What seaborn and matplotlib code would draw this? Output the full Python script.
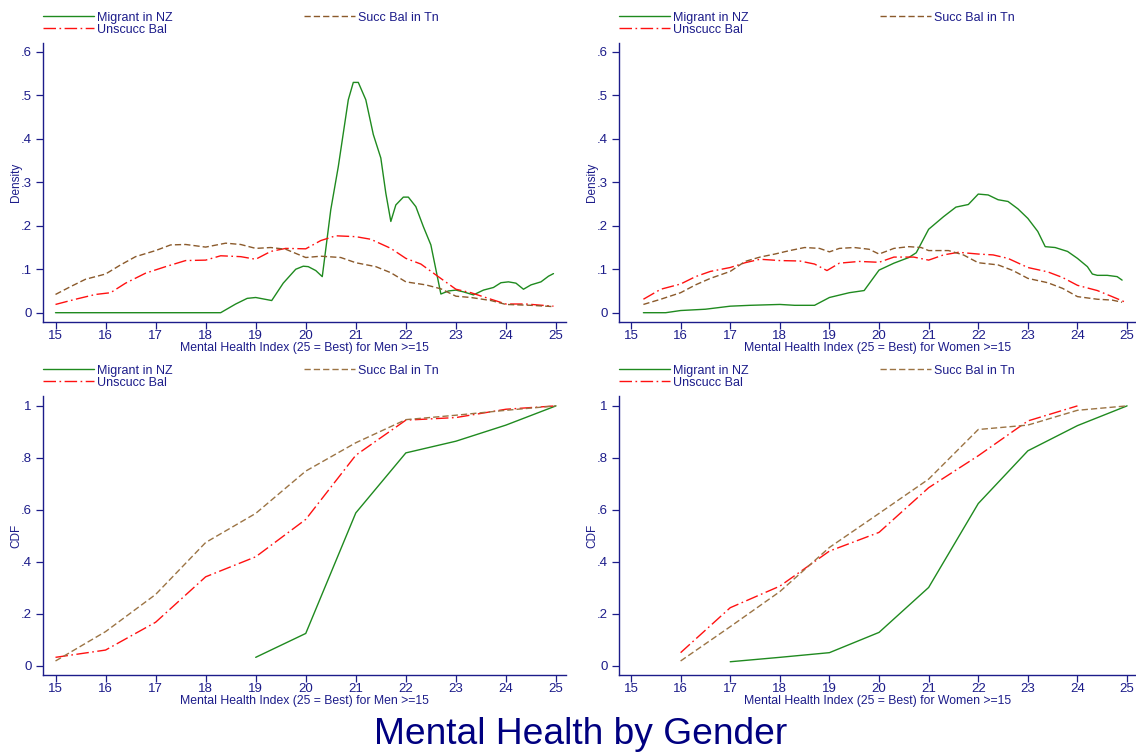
import matplotlib
matplotlib.use("Agg")
import matplotlib.pyplot as plt
import seaborn as sns

# ---- data ----
# kernel densities, men
men_mig_x = [15.0, 18.3, 18.6, 18.83, 19.0, 19.32, 19.55, 19.8, 19.95, 20.05, 20.2, 20.33, 20.5, 20.65,
             20.75, 20.85, 20.95, 21.05, 21.2, 21.35, 21.5, 21.6, 21.7, 21.8, 21.95, 22.05, 22.2, 22.35,
             22.5, 22.7, 22.85, 23.0, 23.15, 23.35, 23.55, 23.75, 23.9, 24.05, 24.2, 24.35, 24.5, 24.7,
             24.85, 24.95]
men_mig_y = [0.0, 0.0, 0.02, 0.033, 0.035, 0.028, 0.068, 0.10, 0.107, 0.106, 0.097, 0.083, 0.237, 0.336,
             0.413, 0.49, 0.53, 0.53, 0.49, 0.41, 0.356, 0.275, 0.21, 0.248, 0.266, 0.266, 0.244, 0.198,
             0.156, 0.043, 0.05, 0.052, 0.048, 0.041, 0.052, 0.058, 0.069, 0.071, 0.068, 0.054, 0.064, 0.071,
             0.084, 0.09]
men_succ_x = [15.0, 15.3, 15.6, 16.0, 16.3, 16.6, 17.0, 17.3, 17.6, 18.0, 18.4, 18.7, 19.0, 19.3, 19.6,
              20.0, 20.3, 20.7, 21.0, 21.4, 21.7, 22.0, 22.4, 22.7, 23.0, 23.3, 23.7, 24.0, 24.5, 24.95]
men_succ_y = [0.042, 0.06, 0.077, 0.089, 0.11, 0.129, 0.143, 0.156, 0.157, 0.151, 0.16, 0.157, 0.148, 0.15,
              0.146, 0.127, 0.13, 0.127, 0.115, 0.106, 0.092, 0.071, 0.064, 0.055, 0.038, 0.035, 0.028,
              0.019, 0.017, 0.014]
men_unsu_x = [15.0, 15.4, 15.8, 16.1, 16.4, 16.8, 17.2, 17.6, 18.0, 18.3, 18.7, 19.0, 19.3, 19.6, 20.0,
              20.3, 20.6, 21.0, 21.3, 21.7, 22.0, 22.3, 22.6, 23.0, 23.3, 23.7, 24.0, 24.4, 24.95]
men_unsu_y = [0.019, 0.031, 0.042, 0.046, 0.068, 0.091, 0.106, 0.12, 0.121, 0.131, 0.129, 0.123, 0.141,
              0.148, 0.147, 0.166, 0.177, 0.175, 0.169, 0.148, 0.125, 0.112, 0.087, 0.054, 0.046, 0.031,
              0.02, 0.02, 0.015]

# kernel densities, women
wom_mig_x = [15.25, 15.7, 16.0, 16.5, 17.0, 17.4, 18.0, 18.3, 18.7, 19.0, 19.4, 19.7, 20.0, 20.3, 20.6,
             20.75, 21.0, 21.3, 21.55, 21.8, 22.0, 22.2, 22.4, 22.6, 22.8, 23.0, 23.2, 23.35, 23.55, 23.8,
             24.0, 24.2, 24.3, 24.4, 24.6, 24.8, 24.9]
wom_mig_y = [0.0, 0.0, 0.005, 0.008, 0.015, 0.017, 0.019, 0.017, 0.017, 0.035, 0.046, 0.051, 0.098, 0.114,
             0.127, 0.138, 0.192, 0.221, 0.243, 0.249, 0.273, 0.271, 0.26, 0.256, 0.239, 0.217, 0.187, 0.152,
             0.15, 0.141, 0.125, 0.106, 0.089, 0.086, 0.086, 0.083, 0.075]
wom_succ_x = [15.25, 15.6, 16.0, 16.3, 16.6, 17.0, 17.3, 17.6, 17.9, 18.2, 18.5, 18.8, 19.0, 19.2, 19.5,
              19.8, 20.0, 20.3, 20.6, 20.85, 21.0, 21.4, 21.7, 22.0, 22.4, 22.7, 23.0, 23.4, 23.7, 24.0,
              24.4, 24.7, 24.9]
wom_succ_y = [0.019, 0.031, 0.046, 0.064, 0.079, 0.095, 0.118, 0.128, 0.135, 0.143, 0.15, 0.148, 0.14,
              0.148, 0.15, 0.146, 0.135, 0.148, 0.152, 0.15, 0.143, 0.143, 0.133, 0.115, 0.11, 0.097, 0.079,
              0.069, 0.056, 0.037, 0.031, 0.029, 0.024]
wom_unsu_x = [15.25, 15.6, 16.0, 16.3, 16.6, 17.0, 17.3, 17.6, 18.0, 18.4, 18.7, 18.95, 19.2, 19.6, 20.0,
              20.3, 20.7, 21.0, 21.3, 21.6, 22.0, 22.3, 22.6, 23.0, 23.4, 23.7, 24.0, 24.4, 24.7, 24.95]
wom_unsu_y = [0.031, 0.054, 0.066, 0.083, 0.095, 0.104, 0.115, 0.123, 0.12, 0.119, 0.112, 0.097, 0.114,
              0.118, 0.116, 0.128, 0.128, 0.121, 0.133, 0.139, 0.135, 0.133, 0.125, 0.104, 0.094, 0.081,
              0.063, 0.051, 0.037, 0.025]

# cumulative distributions
men_cdf_mig_x = [19, 20, 21, 22, 23, 24, 25]
men_cdf_mig_y = [0.032, 0.124, 0.588, 0.819, 0.864, 0.926, 1.0]
men_cdf_succ_x = [15, 16, 17, 18, 19, 20, 21, 22, 23, 24, 25]
men_cdf_succ_y = [0.018, 0.131, 0.274, 0.474, 0.586, 0.749, 0.858, 0.947, 0.964, 0.983, 1.0]
men_cdf_unsu_x = [15, 16, 17, 18, 19, 20, 21, 22, 23, 24, 25]
men_cdf_unsu_y = [0.032, 0.06, 0.167, 0.342, 0.419, 0.563, 0.81, 0.945, 0.955, 0.987, 1.0]

wom_cdf_mig_x = [17, 18, 19, 20, 21, 22, 23, 24, 25]
wom_cdf_mig_y = [0.015, 0.032, 0.05, 0.128, 0.301, 0.624, 0.827, 0.924, 1.0]
wom_cdf_succ_x = [16, 17, 18, 19, 20, 21, 22, 23, 24, 25]
wom_cdf_succ_y = [0.018, 0.15, 0.285, 0.455, 0.586, 0.718, 0.909, 0.926, 0.983, 1.0]
wom_cdf_unsu_x = [16, 17, 18, 19, 20, 21, 22, 23, 24]
wom_cdf_unsu_y = [0.05, 0.223, 0.306, 0.441, 0.513, 0.685, 0.808, 0.942, 1.0]

series_names = ["Migrant in NZ", "Unscucc Bal", "Succ Bal in Tn"]
x_ticks = list(range(15, 26))
dens_ticks = [0, 0.1, 0.2, 0.3, 0.4, 0.5, 0.6]
dens_labels = ["0", ".1", ".2", ".3", ".4", ".5", ".6"]
cdf_ticks = [0, 0.2, 0.4, 0.6, 0.8, 1.0]
cdf_labels = ["0", ".2", ".4", ".6", ".8", "1"]

# ---- styling ----
sns.set_style("ticks")
plt.rcParams['font.family'] = ['Liberation Sans', 'DejaVu Sans']
navy = "#1c1c8a"
green = "#1f8a1f"
red = "#ff1010"
brown = "#8b5a2b"
brown_light = "#9c7444"
dash_dot = (0, (9, 2.5, 1.2, 2.5))
dashed = (0, (4.5, 2.2))

W, H = 1136, 753
fig = plt.figure(figsize=(W / 100, H / 100), dpi=100)


def px_axes(l, t, r, b):
    return fig.add_axes([l / W, 1 - b / H, (r - l) / W, (b - t) / H])


panels = [
    (px_axes(43, 43, 566, 322), "Density", "Men",
     [(men_mig_x, men_mig_y), (men_unsu_x, men_unsu_y), (men_succ_x, men_succ_y)], brown, (14.75, 25.2)),
    (px_axes(619, 43, 1136, 322), "Density", "Women",
     [(wom_mig_x, wom_mig_y), (wom_unsu_x, wom_unsu_y), (wom_succ_x, wom_succ_y)], brown, (14.758, 25.18)),
    (px_axes(43, 396, 566, 675), "CDF", "Men",
     [(men_cdf_mig_x, men_cdf_mig_y), (men_cdf_unsu_x, men_cdf_unsu_y), (men_cdf_succ_x, men_cdf_succ_y)],
     brown_light, (14.75, 25.2)),
    (px_axes(619, 396, 1136, 675), "CDF", "Women",
     [(wom_cdf_mig_x, wom_cdf_mig_y), (wom_cdf_unsu_x, wom_cdf_unsu_y), (wom_cdf_succ_x, wom_cdf_succ_y)],
     brown_light, (14.758, 25.18)),
]

for ax, ylab, sex, series, bcol, xlim in panels:
    styles = [(green, "-"), (red, dash_dot), (bcol, dashed)]
    for (xs, ys), (col, ls), name in zip(series, styles, series_names):
        sns.lineplot(x=xs, y=ys, ax=ax, color=col, linestyle=ls, lw=1.0, label=name)

    if ylab == "Density":
        ax.set_ylim(-0.0214, 0.6207)
        ax.set_yticks(dens_ticks)
        ax.set_yticklabels(dens_labels)
    else:
        ax.set_ylim(-0.036, 1.038)
        ax.set_yticks(cdf_ticks)
        ax.set_yticklabels(cdf_labels)
    ax.set_xlim(*xlim)
    ax.set_xticks(x_ticks)
    ax.set_xticklabels([str(t) for t in x_ticks])

    for s in ["top", "right"]:
        ax.spines[s].set_visible(False)
    for s in ["left", "bottom"]:
        ax.spines[s].set_color(navy)
        ax.spines[s].set_linewidth(1.0)
    ax.tick_params(axis="both", direction="out", length=5, width=0.9, color=navy,
                   labelcolor=navy, labelsize=9.5)
    ax.tick_params(axis="x", pad=0.5)
    ax.tick_params(axis="y", pad=3)

    ax.set_ylabel(ylab, fontsize=8.5, color=navy, labelpad=-1)
    ax.set_xlabel(f"Mental Health Index (25 = Best) for {sex} >=15", fontsize=8.8, color=navy, labelpad=0)

    leg = ax.legend(ncol=2, loc="lower left", bbox_to_anchor=(0.0, 1.026), frameon=False,
                    fontsize=9, handlelength=4.1, handletextpad=0.25, columnspacing=10.45,
                    labelspacing=0.0, borderaxespad=0, borderpad=0)
    for t in leg.get_texts():
        t.set_color(navy)

fig.text(0.511, 1 - 735 / H, "Mental Health by Gender", ha="center", va="center",
         fontsize=26.7, color="#000080")

fig.savefig("out.png", dpi=100)
